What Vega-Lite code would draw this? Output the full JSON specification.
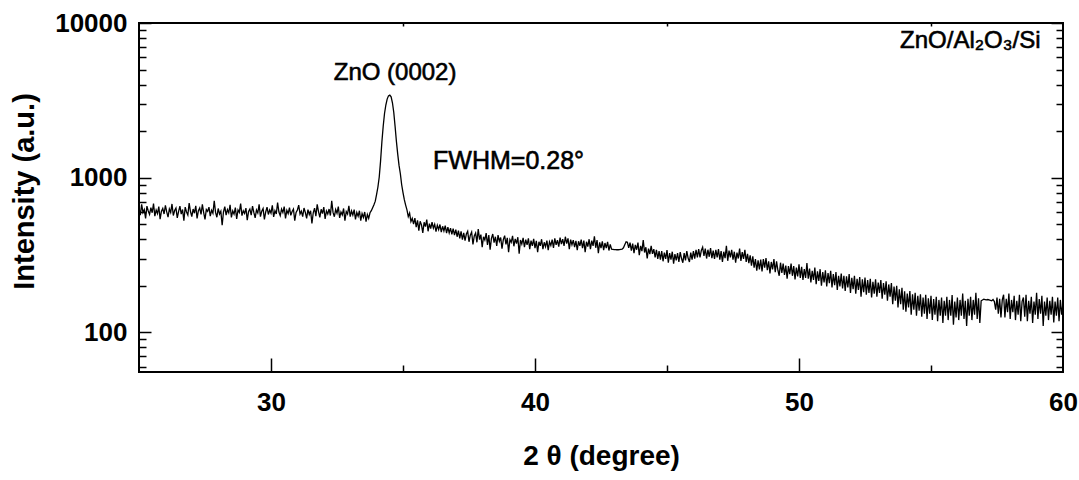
{
"$schema": "https://vega.github.io/schema/vega-lite/v6.json",
"width": 924, "height": 349,
"autosize": {"type": "none"},
"padding": {"left": 139, "top": 23, "right": 16, "bottom": 108},
"background": "white",
"config": {"view": {"stroke": "black", "strokeWidth": 2}, "axis": {"grid": false, "domain": false, "tickColor": "black", "tickWidth": 1.5, "labelColor": "black", "titleColor": "black"}},
"datasets": {"xrd": [
{"deg":25.00,"cps":636},{"deg":25.05,"cps":573},{"deg":25.10,"cps":672},{"deg":25.15,"cps":596},{"deg":25.20,"cps":622},{"deg":25.25,"cps":546},{"deg":25.30,"cps":654},{"deg":25.35,"cps":609},{"deg":25.40,"cps":578},{"deg":25.45,"cps":640},
{"deg":25.50,"cps":593},{"deg":25.55,"cps":681},{"deg":25.60,"cps":564},{"deg":25.65,"cps":618},{"deg":25.70,"cps":586},{"deg":25.75,"cps":650},{"deg":25.80,"cps":539},{"deg":25.85,"cps":607},{"deg":25.90,"cps":632},{"deg":25.95,"cps":582},
{"deg":26.00,"cps":663},{"deg":26.05,"cps":600},{"deg":26.10,"cps":555},{"deg":26.15,"cps":627},{"deg":26.20,"cps":596},{"deg":26.25,"cps":676},{"deg":26.30,"cps":569},{"deg":26.35,"cps":613},{"deg":26.40,"cps":636},{"deg":26.45,"cps":550},
{"deg":26.50,"cps":605},{"deg":26.55,"cps":654},{"deg":26.60,"cps":582},{"deg":26.65,"cps":622},{"deg":26.70,"cps":528},{"deg":26.75,"cps":645},{"deg":26.80,"cps":600},{"deg":26.85,"cps":573},{"deg":26.90,"cps":686},{"deg":26.95,"cps":604},
{"deg":27.00,"cps":560},{"deg":27.05,"cps":627},{"deg":27.10,"cps":589},{"deg":27.15,"cps":658},{"deg":27.20,"cps":546},{"deg":27.25,"cps":611},{"deg":27.30,"cps":636},{"deg":27.35,"cps":578},{"deg":27.40,"cps":672},{"deg":27.45,"cps":595},
{"deg":27.50,"cps":537},{"deg":27.55,"cps":622},{"deg":27.60,"cps":605},{"deg":27.65,"cps":645},{"deg":27.70,"cps":564},{"deg":27.75,"cps":616},{"deg":27.80,"cps":589},{"deg":27.85,"cps":708},{"deg":27.90,"cps":596},{"deg":27.95,"cps":555},
{"deg":28.00,"cps":632},{"deg":28.05,"cps":582},{"deg":28.10,"cps":607},{"deg":28.15,"cps":492},{"deg":28.20,"cps":600},{"deg":28.25,"cps":649},{"deg":28.30,"cps":573},{"deg":28.35,"cps":622},{"deg":28.40,"cps":593},{"deg":28.45,"cps":668},
{"deg":28.50,"cps":553},{"deg":28.55,"cps":609},{"deg":28.60,"cps":582},{"deg":28.65,"cps":640},{"deg":28.70,"cps":542},{"deg":28.75,"cps":618},{"deg":28.80,"cps":596},{"deg":28.85,"cps":681},{"deg":28.90,"cps":568},{"deg":28.95,"cps":611},
{"deg":29.00,"cps":587},{"deg":29.05,"cps":636},{"deg":29.10,"cps":532},{"deg":29.15,"cps":604},{"deg":29.20,"cps":627},{"deg":29.25,"cps":573},{"deg":29.30,"cps":654},{"deg":29.35,"cps":596},{"deg":29.40,"cps":550},{"deg":29.45,"cps":618},
{"deg":29.50,"cps":591},{"deg":29.55,"cps":672},{"deg":29.60,"cps":560},{"deg":29.65,"cps":607},{"deg":29.70,"cps":632},{"deg":29.75,"cps":537},{"deg":29.80,"cps":600},{"deg":29.85,"cps":645},{"deg":29.90,"cps":578},{"deg":29.95,"cps":618},
{"deg":30.00,"cps":589},{"deg":30.05,"cps":663},{"deg":30.10,"cps":557},{"deg":30.15,"cps":611},{"deg":30.20,"cps":582},{"deg":30.25,"cps":690},{"deg":30.30,"cps":600},{"deg":30.35,"cps":568},{"deg":30.40,"cps":627},{"deg":30.45,"cps":595},
{"deg":30.50,"cps":650},{"deg":30.55,"cps":546},{"deg":30.60,"cps":614},{"deg":30.65,"cps":586},{"deg":30.70,"cps":640},{"deg":30.75,"cps":571},{"deg":30.80,"cps":605},{"deg":30.85,"cps":627},{"deg":30.90,"cps":528},{"deg":30.95,"cps":596},
{"deg":31.00,"cps":618},{"deg":31.05,"cps":665},{"deg":31.10,"cps":582},{"deg":31.15,"cps":607},{"deg":31.20,"cps":560},{"deg":31.25,"cps":636},{"deg":31.30,"cps":596},{"deg":31.35,"cps":546},{"deg":31.40,"cps":622},{"deg":31.45,"cps":578},
{"deg":31.50,"cps":611},{"deg":31.55,"cps":506},{"deg":31.60,"cps":593},{"deg":31.65,"cps":636},{"deg":31.70,"cps":564},{"deg":31.75,"cps":672},{"deg":31.80,"cps":604},{"deg":31.85,"cps":553},{"deg":31.90,"cps":625},{"deg":31.95,"cps":586},
{"deg":32.00,"cps":645},{"deg":32.05,"cps":542},{"deg":32.10,"cps":609},{"deg":32.15,"cps":582},{"deg":32.20,"cps":627},{"deg":32.25,"cps":569},{"deg":32.30,"cps":708},{"deg":32.35,"cps":596},{"deg":32.40,"cps":559},{"deg":32.45,"cps":622},
{"deg":32.50,"cps":589},{"deg":32.55,"cps":650},{"deg":32.60,"cps":550},{"deg":32.65,"cps":600},{"deg":32.70,"cps":575},{"deg":32.75,"cps":632},{"deg":32.80,"cps":528},{"deg":32.85,"cps":604},{"deg":32.90,"cps":582},{"deg":32.95,"cps":658},
{"deg":33.00,"cps":560},{"deg":33.05,"cps":609},{"deg":33.10,"cps":573},{"deg":33.15,"cps":622},{"deg":33.20,"cps":537},{"deg":33.25,"cps":596},{"deg":33.30,"cps":564},{"deg":33.35,"cps":611},{"deg":33.40,"cps":528},{"deg":33.45,"cps":586},
{"deg":33.50,"cps":553},{"deg":33.55,"cps":600},{"deg":33.60,"cps":519},{"deg":33.65,"cps":578},{"deg":33.70,"cps":546},{"deg":33.75,"cps":593},{"deg":33.80,"cps":612},{"deg":33.85,"cps":640},{"deg":33.90,"cps":668},{"deg":33.95,"cps":705},
{"deg":34.00,"cps":780},{"deg":34.05,"cps":870},{"deg":34.10,"cps":1010},{"deg":34.15,"cps":1280},{"deg":34.20,"cps":1700},{"deg":34.25,"cps":2150},{"deg":34.30,"cps":2600},{"deg":34.35,"cps":2950},{"deg":34.40,"cps":3220},{"deg":34.45,"cps":3380},
{"deg":34.50,"cps":3420},{"deg":34.55,"cps":3330},{"deg":34.60,"cps":3050},{"deg":34.65,"cps":2650},{"deg":34.70,"cps":2150},{"deg":34.75,"cps":1720},{"deg":34.80,"cps":1420},{"deg":34.85,"cps":1200},{"deg":34.90,"cps":1060},{"deg":34.95,"cps":900},
{"deg":35.00,"cps":800},{"deg":35.05,"cps":720},{"deg":35.10,"cps":665},{"deg":35.15,"cps":620},{"deg":35.20,"cps":560},{"deg":35.25,"cps":590},{"deg":35.30,"cps":520},{"deg":35.35,"cps":545},{"deg":35.40,"cps":500},{"deg":35.45,"cps":548},
{"deg":35.50,"cps":478},{"deg":35.55,"cps":530},{"deg":35.60,"cps":455},{"deg":35.65,"cps":522},{"deg":35.70,"cps":495},{"deg":35.75,"cps":440},{"deg":35.80,"cps":515},{"deg":35.85,"cps":482},{"deg":35.90,"cps":535},{"deg":35.95,"cps":450},
{"deg":36.00,"cps":505},{"deg":36.05,"cps":468},{"deg":36.10,"cps":515},{"deg":36.15,"cps":472},{"deg":36.20,"cps":500},{"deg":36.25,"cps":448},{"deg":36.30,"cps":492},{"deg":36.35,"cps":462},{"deg":36.40,"cps":498},{"deg":36.45,"cps":445},
{"deg":36.50,"cps":485},{"deg":36.55,"cps":452},{"deg":36.60,"cps":490},{"deg":36.65,"cps":438},{"deg":36.70,"cps":478},{"deg":36.75,"cps":440},{"deg":36.80,"cps":472},{"deg":36.85,"cps":430},{"deg":36.90,"cps":468},{"deg":36.95,"cps":425},
{"deg":37.00,"cps":462},{"deg":37.05,"cps":415},{"deg":37.10,"cps":455},{"deg":37.15,"cps":405},{"deg":37.20,"cps":450},{"deg":37.25,"cps":398},{"deg":37.30,"cps":440},{"deg":37.35,"cps":392},{"deg":37.40,"cps":432},{"deg":37.45,"cps":450},
{"deg":37.50,"cps":385},{"deg":37.55,"cps":425},{"deg":37.60,"cps":445},{"deg":37.65,"cps":370},{"deg":37.70,"cps":420},{"deg":37.75,"cps":438},{"deg":37.80,"cps":382},{"deg":37.85,"cps":465},{"deg":37.90,"cps":398},{"deg":37.95,"cps":428},
{"deg":38.00,"cps":355},{"deg":38.05,"cps":415},{"deg":38.10,"cps":395},{"deg":38.15,"cps":438},{"deg":38.20,"cps":368},{"deg":38.25,"cps":425},{"deg":38.30,"cps":342},{"deg":38.35,"cps":405},{"deg":38.40,"cps":432},{"deg":38.45,"cps":380},
{"deg":38.50,"cps":415},{"deg":38.55,"cps":362},{"deg":38.60,"cps":425},{"deg":38.65,"cps":388},{"deg":38.70,"cps":410},{"deg":38.75,"cps":348},{"deg":38.80,"cps":398},{"deg":38.85,"cps":422},{"deg":38.90,"cps":370},{"deg":38.95,"cps":408},
{"deg":39.00,"cps":330},{"deg":39.05,"cps":398},{"deg":39.10,"cps":382},{"deg":39.15,"cps":420},{"deg":39.20,"cps":360},{"deg":39.25,"cps":402},{"deg":39.30,"cps":375},{"deg":39.35,"cps":412},{"deg":39.40,"cps":322},{"deg":39.45,"cps":395},
{"deg":39.50,"cps":372},{"deg":39.55,"cps":408},{"deg":39.60,"cps":355},{"deg":39.65,"cps":398},{"deg":39.70,"cps":368},{"deg":39.75,"cps":405},{"deg":39.80,"cps":345},{"deg":39.85,"cps":392},{"deg":39.90,"cps":362},{"deg":39.95,"cps":402},
{"deg":40.00,"cps":350},{"deg":40.05,"cps":390},{"deg":40.10,"cps":330},{"deg":40.15,"cps":385},{"deg":40.20,"cps":362},{"deg":40.25,"cps":400},{"deg":40.30,"cps":345},{"deg":40.35,"cps":382},{"deg":40.40,"cps":358},{"deg":40.45,"cps":392},
{"deg":40.50,"cps":340},{"deg":40.55,"cps":385},{"deg":40.60,"cps":365},{"deg":40.65,"cps":398},{"deg":40.70,"cps":352},{"deg":40.75,"cps":405},{"deg":40.80,"cps":368},{"deg":40.85,"cps":395},{"deg":40.90,"cps":358},{"deg":40.95,"cps":410},
{"deg":41.00,"cps":372},{"deg":41.05,"cps":400},{"deg":41.10,"cps":362},{"deg":41.15,"cps":415},{"deg":41.20,"cps":375},{"deg":41.25,"cps":405},{"deg":41.30,"cps":345},{"deg":41.35,"cps":398},{"deg":41.40,"cps":368},{"deg":41.45,"cps":395},
{"deg":41.50,"cps":355},{"deg":41.55,"cps":390},{"deg":41.60,"cps":340},{"deg":41.65,"cps":388},{"deg":41.70,"cps":362},{"deg":41.75,"cps":398},{"deg":41.80,"cps":350},{"deg":41.85,"cps":392},{"deg":41.90,"cps":330},{"deg":41.95,"cps":385},
{"deg":42.00,"cps":358},{"deg":42.05,"cps":400},{"deg":42.10,"cps":345},{"deg":42.15,"cps":392},{"deg":42.20,"cps":362},{"deg":42.25,"cps":418},{"deg":42.30,"cps":352},{"deg":42.35,"cps":395},{"deg":42.40,"cps":325},{"deg":42.45,"cps":382},
{"deg":42.50,"cps":350},{"deg":42.55,"cps":388},{"deg":42.60,"cps":340},{"deg":42.65,"cps":378},{"deg":42.70,"cps":350},{"deg":42.75,"cps":385},{"deg":42.80,"cps":338},{"deg":42.85,"cps":370},{"deg":42.90,"cps":345},{"deg":42.95,"cps":344},
{"deg":43.00,"cps":343},{"deg":43.05,"cps":343},{"deg":43.10,"cps":342},{"deg":43.15,"cps":342},{"deg":43.20,"cps":343},{"deg":43.25,"cps":344},{"deg":43.30,"cps":345},{"deg":43.35,"cps":352},{"deg":43.40,"cps":368},{"deg":43.45,"cps":385},
{"deg":43.50,"cps":382},{"deg":43.55,"cps":352},{"deg":43.60,"cps":380},{"deg":43.65,"cps":338},{"deg":43.70,"cps":375},{"deg":43.75,"cps":325},{"deg":43.80,"cps":368},{"deg":43.85,"cps":342},{"deg":43.90,"cps":380},{"deg":43.95,"cps":315},
{"deg":44.00,"cps":362},{"deg":44.05,"cps":335},{"deg":44.10,"cps":395},{"deg":44.15,"cps":328},{"deg":44.20,"cps":355},{"deg":44.25,"cps":300},{"deg":44.30,"cps":348},{"deg":44.35,"cps":320},{"deg":44.40,"cps":362},{"deg":44.45,"cps":322},
{"deg":44.50,"cps":345},{"deg":44.55,"cps":305},{"deg":44.60,"cps":342},{"deg":44.65,"cps":298},{"deg":44.70,"cps":335},{"deg":44.75,"cps":295},{"deg":44.80,"cps":335},{"deg":44.85,"cps":288},{"deg":44.90,"cps":328},{"deg":44.95,"cps":298},
{"deg":45.00,"cps":340},{"deg":45.05,"cps":282},{"deg":45.10,"cps":325},{"deg":45.15,"cps":295},{"deg":45.20,"cps":332},{"deg":45.25,"cps":278},{"deg":45.30,"cps":320},{"deg":45.35,"cps":292},{"deg":45.40,"cps":325},{"deg":45.45,"cps":285},
{"deg":45.50,"cps":330},{"deg":45.55,"cps":300},{"deg":45.60,"cps":282},{"deg":45.65,"cps":325},{"deg":45.70,"cps":292},{"deg":45.75,"cps":335},{"deg":45.80,"cps":302},{"deg":45.85,"cps":285},{"deg":45.90,"cps":328},{"deg":45.95,"cps":295},
{"deg":46.00,"cps":335},{"deg":46.05,"cps":300},{"deg":46.10,"cps":342},{"deg":46.15,"cps":305},{"deg":46.20,"cps":345},{"deg":46.25,"cps":305},{"deg":46.30,"cps":338},{"deg":46.35,"cps":355},{"deg":46.40,"cps":312},{"deg":46.45,"cps":348},
{"deg":46.50,"cps":300},{"deg":46.55,"cps":342},{"deg":46.60,"cps":308},{"deg":46.65,"cps":350},{"deg":46.70,"cps":302},{"deg":46.75,"cps":338},{"deg":46.80,"cps":298},{"deg":46.85,"cps":342},{"deg":46.90,"cps":305},{"deg":46.95,"cps":345},
{"deg":47.00,"cps":295},{"deg":47.05,"cps":335},{"deg":47.10,"cps":285},{"deg":47.15,"cps":332},{"deg":47.20,"cps":302},{"deg":47.25,"cps":362},{"deg":47.30,"cps":290},{"deg":47.35,"cps":338},{"deg":47.40,"cps":305},{"deg":47.45,"cps":342},
{"deg":47.50,"cps":295},{"deg":47.55,"cps":332},{"deg":47.60,"cps":282},{"deg":47.65,"cps":328},{"deg":47.70,"cps":300},{"deg":47.75,"cps":348},{"deg":47.80,"cps":290},{"deg":47.85,"cps":330},{"deg":47.90,"cps":298},{"deg":47.95,"cps":342},
{"deg":48.00,"cps":285},{"deg":48.05,"cps":322},{"deg":48.10,"cps":280},{"deg":48.15,"cps":315},{"deg":48.20,"cps":270},{"deg":48.25,"cps":310},{"deg":48.30,"cps":262},{"deg":48.35,"cps":298},{"deg":48.40,"cps":250},{"deg":48.45,"cps":292},
{"deg":48.50,"cps":255},{"deg":48.55,"cps":295},{"deg":48.60,"cps":248},{"deg":48.65,"cps":298},{"deg":48.70,"cps":262},{"deg":48.75,"cps":302},{"deg":48.80,"cps":252},{"deg":48.85,"cps":288},{"deg":48.90,"cps":240},{"deg":48.95,"cps":285},
{"deg":49.00,"cps":255},{"deg":49.05,"cps":298},{"deg":49.10,"cps":245},{"deg":49.15,"cps":288},{"deg":49.20,"cps":252},{"deg":49.25,"cps":232},{"deg":49.30,"cps":282},{"deg":49.35,"cps":242},{"deg":49.40,"cps":278},{"deg":49.45,"cps":235},
{"deg":49.50,"cps":270},{"deg":49.55,"cps":222},{"deg":49.60,"cps":268},{"deg":49.65,"cps":238},{"deg":49.70,"cps":278},{"deg":49.75,"cps":232},{"deg":49.80,"cps":268},{"deg":49.85,"cps":220},{"deg":49.90,"cps":262},{"deg":49.95,"cps":230},
{"deg":50.00,"cps":275},{"deg":50.05,"cps":225},{"deg":50.10,"cps":265},{"deg":50.15,"cps":218},{"deg":50.20,"cps":256},{"deg":50.25,"cps":225},{"deg":50.30,"cps":280},{"deg":50.35,"cps":222},{"deg":50.40,"cps":258},{"deg":50.45,"cps":210},
{"deg":50.50,"cps":250},{"deg":50.55,"cps":218},{"deg":50.60,"cps":262},{"deg":50.65,"cps":205},{"deg":50.70,"cps":248},{"deg":50.75,"cps":215},{"deg":50.80,"cps":256},{"deg":50.85,"cps":200},{"deg":50.90,"cps":245},{"deg":50.95,"cps":210},
{"deg":51.00,"cps":252},{"deg":51.05,"cps":198},{"deg":51.10,"cps":242},{"deg":51.15,"cps":208},{"deg":51.20,"cps":250},{"deg":51.25,"cps":195},{"deg":51.30,"cps":238},{"deg":51.35,"cps":202},{"deg":51.40,"cps":245},{"deg":51.45,"cps":188},
{"deg":51.50,"cps":232},{"deg":51.55,"cps":198},{"deg":51.60,"cps":240},{"deg":51.65,"cps":192},{"deg":51.70,"cps":232},{"deg":51.75,"cps":185},{"deg":51.80,"cps":230},{"deg":51.85,"cps":195},{"deg":51.90,"cps":238},{"deg":51.95,"cps":180},
{"deg":52.00,"cps":225},{"deg":52.05,"cps":190},{"deg":52.10,"cps":232},{"deg":52.15,"cps":178},{"deg":52.20,"cps":222},{"deg":52.25,"cps":188},{"deg":52.30,"cps":228},{"deg":52.35,"cps":170},{"deg":52.40,"cps":220},{"deg":52.45,"cps":182},
{"deg":52.50,"cps":226},{"deg":52.55,"cps":175},{"deg":52.60,"cps":218},{"deg":52.65,"cps":180},{"deg":52.70,"cps":222},{"deg":52.75,"cps":168},{"deg":52.80,"cps":212},{"deg":52.85,"cps":178},{"deg":52.90,"cps":220},{"deg":52.95,"cps":170},
{"deg":53.00,"cps":210},{"deg":53.05,"cps":180},{"deg":53.10,"cps":218},{"deg":53.15,"cps":165},{"deg":53.20,"cps":208},{"deg":53.25,"cps":175},{"deg":53.30,"cps":214},{"deg":53.35,"cps":160},{"deg":53.40,"cps":204},{"deg":53.45,"cps":170},
{"deg":53.50,"cps":208},{"deg":53.55,"cps":152},{"deg":53.60,"cps":198},{"deg":53.65,"cps":160},{"deg":53.70,"cps":200},{"deg":53.75,"cps":145},{"deg":53.80,"cps":190},{"deg":53.85,"cps":152},{"deg":53.90,"cps":194},{"deg":53.95,"cps":140},
{"deg":54.00,"cps":184},{"deg":54.05,"cps":136},{"deg":54.10,"cps":178},{"deg":54.15,"cps":145},{"deg":54.20,"cps":185},{"deg":54.25,"cps":130},{"deg":54.30,"cps":176},{"deg":54.35,"cps":140},{"deg":54.40,"cps":180},{"deg":54.45,"cps":128},
{"deg":54.50,"cps":172},{"deg":54.55,"cps":138},{"deg":54.60,"cps":176},{"deg":54.65,"cps":126},{"deg":54.70,"cps":168},{"deg":54.75,"cps":132},{"deg":54.80,"cps":175},{"deg":54.85,"cps":122},{"deg":54.90,"cps":166},{"deg":54.95,"cps":132},
{"deg":55.00,"cps":172},{"deg":55.05,"cps":120},{"deg":55.10,"cps":164},{"deg":55.15,"cps":130},{"deg":55.20,"cps":170},{"deg":55.25,"cps":118},{"deg":55.30,"cps":162},{"deg":55.35,"cps":128},{"deg":55.40,"cps":168},{"deg":55.45,"cps":115},
{"deg":55.50,"cps":160},{"deg":55.55,"cps":128},{"deg":55.60,"cps":170},{"deg":55.65,"cps":120},{"deg":55.70,"cps":162},{"deg":55.75,"cps":128},{"deg":55.80,"cps":174},{"deg":55.85,"cps":112},{"deg":55.90,"cps":158},{"deg":55.95,"cps":125},
{"deg":56.00,"cps":168},{"deg":56.05,"cps":120},{"deg":56.10,"cps":162},{"deg":56.15,"cps":128},{"deg":56.20,"cps":178},{"deg":56.25,"cps":122},{"deg":56.30,"cps":160},{"deg":56.35,"cps":110},{"deg":56.40,"cps":165},{"deg":56.45,"cps":128},
{"deg":56.50,"cps":170},{"deg":56.55,"cps":120},{"deg":56.60,"cps":162},{"deg":56.65,"cps":130},{"deg":56.70,"cps":180},{"deg":56.75,"cps":122},{"deg":56.80,"cps":166},{"deg":56.85,"cps":115},{"deg":56.90,"cps":160},{"deg":56.95,"cps":162},
{"deg":57.00,"cps":164},{"deg":57.05,"cps":163},{"deg":57.10,"cps":162},{"deg":57.15,"cps":163},{"deg":57.20,"cps":162},{"deg":57.25,"cps":161},{"deg":57.30,"cps":160},{"deg":57.35,"cps":163},{"deg":57.40,"cps":158},{"deg":57.45,"cps":140},
{"deg":57.50,"cps":168},{"deg":57.55,"cps":132},{"deg":57.60,"cps":165},{"deg":57.65,"cps":125},{"deg":57.70,"cps":162},{"deg":57.75,"cps":175},{"deg":57.80,"cps":125},{"deg":57.85,"cps":165},{"deg":57.90,"cps":135},{"deg":57.95,"cps":178},
{"deg":58.00,"cps":122},{"deg":58.05,"cps":162},{"deg":58.10,"cps":135},{"deg":58.15,"cps":172},{"deg":58.20,"cps":120},{"deg":58.25,"cps":160},{"deg":58.30,"cps":130},{"deg":58.35,"cps":175},{"deg":58.40,"cps":118},{"deg":58.45,"cps":158},
{"deg":58.50,"cps":168},{"deg":58.55,"cps":126},{"deg":58.60,"cps":175},{"deg":58.65,"cps":118},{"deg":58.70,"cps":160},{"deg":58.75,"cps":132},{"deg":58.80,"cps":170},{"deg":58.85,"cps":115},{"deg":58.90,"cps":158},{"deg":58.95,"cps":130},
{"deg":59.00,"cps":180},{"deg":59.05,"cps":122},{"deg":59.10,"cps":164},{"deg":59.15,"cps":132},{"deg":59.20,"cps":172},{"deg":59.25,"cps":110},{"deg":59.30,"cps":158},{"deg":59.35,"cps":128},{"deg":59.40,"cps":168},{"deg":59.45,"cps":120},
{"deg":59.50,"cps":160},{"deg":59.55,"cps":130},{"deg":59.60,"cps":170},{"deg":59.65,"cps":116},{"deg":59.70,"cps":158},{"deg":59.75,"cps":128},{"deg":59.80,"cps":168},{"deg":59.85,"cps":118},{"deg":59.90,"cps":162},{"deg":59.95,"cps":130},
{"deg":60.00,"cps":155}
], "anchor": [{"deg": 30, "cps": 100}]},
"layer": [
{"data": {"name": "xrd"},
 "mark": {"type": "line", "color": "black", "strokeWidth": 1.3, "clip": true},
 "encoding": {
  "x": {"field": "deg", "type": "quantitative", "scale": {"domain": [25, 60], "nice": false, "zero": false},
   "axis": {"orient": "bottom", "values": [30, 40, 50, 60], "ticks": false, "labelPadding": 17, "labelFontSize": 26, "labelFont": "Liberation Sans", "labelFontWeight": "bold", "labelFlush": false, "labelOverlap": false, "labelBound": false, "format": "d",
    "title": "2 θ (degree)", "titleFont": "Liberation Sans", "titleFontSize": 28, "titleFontWeight": "bold", "titleX": 462, "titleY": 92, "titleBaseline": "alphabetic", "titleAlign": "center"}},
  "y": {"field": "cps", "type": "quantitative", "scale": {"type": "log", "domain": [55.4, 10000], "nice": false},
   "axis": {"orient": "left", "values": [100, 1000, 10000], "ticks": false, "labelPadding": 12, "labelFontSize": 26, "labelFont": "Liberation Sans", "labelFontWeight": "bold", "labelFlush": false, "labelOverlap": false, "labelBound": false, "format": "d",
    "title": "Intensity (a.u.)", "titleFont": "Liberation Sans", "titleFontSize": 29, "titleFontWeight": "bold", "titleX": -106, "titleY": 168, "titleAngle": -90, "titleBaseline": "alphabetic", "titleAlign": "center"}}
 }},
{"data": {"name": "anchor"}, "mark": {"type": "point", "opacity": 0},
 "encoding": {
  "x": {"field": "deg", "type": "quantitative", "axis": {"orient": "bottom", "values": [30, 40, 50], "labels": false, "tickSize": -14, "title": null}},
  "y": {"field": "cps", "type": "quantitative", "axis": {"orient": "left", "values": [100, 1000, 10000], "labels": false, "tickSize": -12, "title": null}}
 }},
{"data": {"name": "anchor"}, "mark": {"type": "point", "opacity": 0},
 "encoding": {
  "x": {"field": "deg", "type": "quantitative", "axis": {"orient": "bottom", "values": [35, 45, 55], "labels": false, "tickSize": -7, "title": null}},
  "y": {"field": "cps", "type": "quantitative", "axis": {"orient": "left", "values": [60, 70, 80, 90, 200, 300, 400, 500, 600, 700, 800, 900, 2000, 3000, 4000, 5000, 6000, 7000, 8000, 9000], "labels": false, "tickSize": -7, "title": null}}
 }},
{"data": {"name": "anchor"}, "mark": {"type": "point", "opacity": 0},
 "encoding": {
  "x": {"field": "deg", "type": "quantitative", "axis": {"orient": "top", "values": [35, 45, 55], "labels": false, "tickSize": -3, "title": null}},
  "y": {"field": "cps", "type": "quantitative", "axis": {"orient": "right", "values": [100, 1000, 10000], "labels": false, "tickSize": -12, "title": null}}
 }},
{"data": {"name": "anchor"}, "mark": {"type": "point", "opacity": 0},
 "encoding": {
  "x": {"field": "deg", "type": "quantitative", "axis": null},
  "y": {"field": "cps", "type": "quantitative", "axis": {"orient": "right", "values": [60, 70, 80, 90, 200, 300, 400, 500, 600, 700, 800, 900, 2000, 3000, 4000, 5000, 6000, 7000, 8000, 9000], "labels": false, "tickSize": -7, "title": null}}
 }},
{"data": {"name": "anchor"}, "mark": {"type": "text", "text": "ZnO (0002)", "font": "Liberation Sans", "fontSize": 24, "align": "center", "baseline": "middle", "color": "black", "stroke": "black", "strokeWidth": 0.6},
 "encoding": {"x": {"datum": 34.7, "type": "quantitative", "axis": null}, "y": {"datum": 4730, "type": "quantitative", "axis": null}}},
{"data": {"name": "anchor"}, "mark": {"type": "text", "text": "FWHM=0.28°", "font": "Liberation Sans", "fontSize": 25, "align": "left", "baseline": "middle", "color": "black", "stroke": "black", "strokeWidth": 0.6},
 "encoding": {"x": {"datum": 36.14, "type": "quantitative", "axis": null}, "y": {"datum": 1276, "type": "quantitative", "axis": null}}},
{"data": {"name": "anchor"}, "mark": {"type": "text", "text": "ZnO/Al₂O₃/Si", "font": "Liberation Sans", "fontSize": 24, "align": "left", "baseline": "middle", "color": "black", "stroke": "black", "strokeWidth": 0.6},
 "encoding": {"x": {"datum": 53.83, "type": "quantitative", "axis": null}, "y": {"datum": 7620, "type": "quantitative", "axis": null}}}
]
}
